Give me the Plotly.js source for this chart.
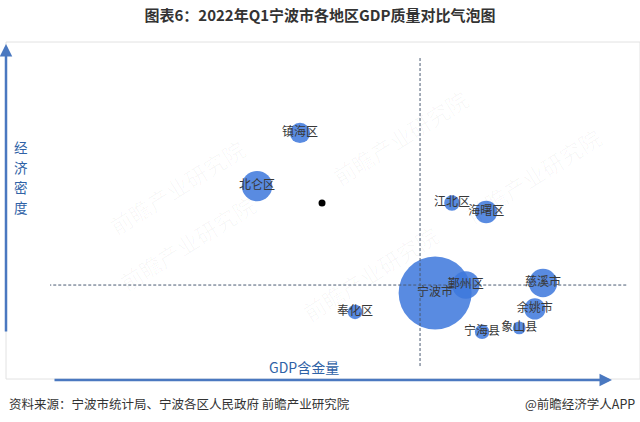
<!DOCTYPE html>
<html>
<head>
<meta charset="utf-8">
<script src="https://cdn.plot.ly/plotly-3.0.1.min.js"></script>
<style>
html,body{margin:0;padding:0;background:#fff;}
#chart{width:640px;height:422px;}
</style>
</head>
<body>
<div id="chart"></div>
<script>
// ---- data (notional 0-100 scales) ----
const regions = ['宁波市','鄞州区','慈溪市','余姚市','象山县','宁海县','奉化区','江北区','海曙区','北仑区','镇海区'];
const gdpQuality = [66.4, 71.7, 85.0, 83.6, 80.9, 74.5, 52.6, 69.3, 75.2, 35.7, 43.1];   // x: GDP含金量
const econDensity = [25.3, 27.7, 28.3, 20.5, 14.8, 13.6, 19.6, 52.4, 49.7, 57.5, 73.5];  // y: 经济密度
const gdpScale = [3530, 496, 534, 300, 110, 140, 140, 160, 330, 613, 272];              // bubble area
const refPointX = [46.9];
const refPointY = [52.4];
const xDivider = 63.8;
const yDivider = 27.7;
const yAxisTitleChars = ['经', '济', '密', '度'];

const FONT = '"Noto Sans CJK SC", "Noto Sans", sans-serif';

// plot area in px: x 50..630, y 45..377
const L = 50, R = 10, T = 45, B = 45, W = 640, H = 422;
const PW = W - L - R, PH = H - T - B;
const px = v => (v - L) / PW;
const py = v => (H - B - v) / PH;

const bubbles = {
  type: 'scatter', mode: 'markers+text',
  x: gdpQuality, y: econDensity, text: regions,
  textposition: 'middle center',
  textfont: {family: FONT, size: 12, color: '#383838'},
  marker: {
    size: gdpScale, sizemode: 'area', sizeref: 3530 / (2 * 36.5 * 36.5),
    color: 'rgb(62,120,220)', opacity: 0.86, line: {width: 0}
  },
  hoverinfo: 'text', showlegend: false, cliponaxis: false
};
const dot = {
  type: 'scatter', mode: 'markers', x: refPointX, y: refPointY,
  marker: {size: 7, color: '#000'}, showlegend: false, hoverinfo: 'skip'
};

const watermarks = [
  [100, 130], [400, 80], [610, 175], [110, 300], [370, 330]
].map(p => ({
  xref: 'paper', yref: 'paper', x: px(p[0]), y: py(p[1]),
  text: '前瞻产业研究院', showarrow: false, textangle: -32,
  font: {family: FONT, size: 22, color: 'rgba(0,0,0,0.03)'}
}));

const yTitle = yAxisTitleChars.map((c, i) => ({
  xref: 'paper', yref: 'paper', x: px(21), y: py(147 + i * 20), text: c, showarrow: false,
  font: {family: FONT, size: 13.5, color: '#2f62a6'}, xanchor: 'center', yanchor: 'middle', borderpad: 0
}));

const layout = {
  width: W, height: H,
  margin: {l: L, r: R, t: T, b: B},
  paper_bgcolor: '#fff', plot_bgcolor: 'rgba(0,0,0,0)',
  xaxis: {range: [0, 100], visible: false, fixedrange: true},
  yaxis: {range: [0, 100], visible: false, fixedrange: true},
  showlegend: false,
  title: {
    text: '<b>图表6：2022年Q1宁波市各地区GDP质量对比气泡图</b>',
    font: {family: FONT, size: 15, color: '#333'},
    x: 0.5, xanchor: 'center', y: 1 - 16 / H, yanchor: 'middle'
  },
  shapes: [
    {type: 'rect', xref: 'paper', yref: 'paper', x0: px(6), x1: px(640), y0: py(379), y1: py(42),
     line: {color: '#e2e2e2', width: 1}, layer: 'below'},
    {type: 'line', xref: 'x', yref: 'y', x0: xDivider, x1: xDivider, y0: 3.3, y1: 96.1,
     line: {color: '#4a5a72', width: 1, dash: '3px,2px'}, layer: 'above'},
    {type: 'line', xref: 'x', yref: 'y', x0: -0.3, x1: 99.7, y0: yDivider, y1: yDivider,
     line: {color: '#4a5a72', width: 1, dash: '3px,2px'}, layer: 'above'}
  ],
  annotations: watermarks.concat(yTitle, [
    {xref: 'paper', yref: 'paper', x: px(6), y: py(44), ax: 0, ay: 289, axref: 'pixel', ayref: 'pixel',
     text: '', showarrow: true, arrowhead: 2, arrowsize: 1, arrowwidth: 2.5, arrowcolor: '#4a78c0'},
    {xref: 'paper', yref: 'paper', x: px(612), y: py(380), ax: -559, ay: 0, axref: 'pixel', ayref: 'pixel',
     text: '', showarrow: true, arrowhead: 2, arrowsize: 1, arrowwidth: 2.5, arrowcolor: '#4a78c0'},
    {xref: 'paper', yref: 'paper', x: px(304), y: py(367), text: 'GDP含金量', showarrow: false,
     font: {family: FONT, size: 14, color: '#2f62a6'}, xanchor: 'center', yanchor: 'middle'},
    {xref: 'paper', yref: 'paper', x: px(7), y: py(403), text: '资料来源：宁波市统计局、宁波各区人民政府 前瞻产业研究院', showarrow: false,
     font: {family: FONT, size: 12.5, color: '#333'}, xanchor: 'left', yanchor: 'middle'},
    {xref: 'paper', yref: 'paper', x: px(637), y: py(403), text: '@前瞻经济学人APP', showarrow: false,
     font: {family: FONT, size: 12.5, color: '#333'}, xanchor: 'right', yanchor: 'middle'}
  ])
};

Plotly.newPlot('chart', [bubbles, dot], layout, {staticPlot: true, displayModeBar: false});
</script>
</body>
</html>
